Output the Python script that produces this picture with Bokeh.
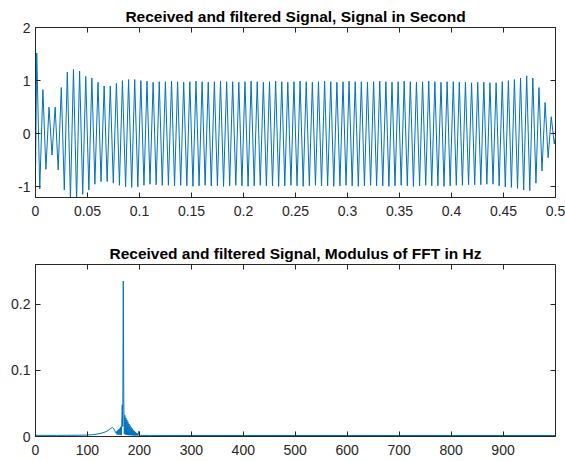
from bokeh.plotting import figure
from bokeh.models import Range1d, FixedTicker, LinearAxis
from bokeh.layouts import column
from bokeh.embed import file_html
from bokeh.resources import INLINE

# ---------------- data ----------------
# Top panel: received & filtered signal; extrema of each cycle (seconds, amplitude)
sig_start_t = 0.0
sig_start_v = -0.73
sig_end_t = 0.5
sig_end_v = -0.05

peak_t = [0.0012, 0.0071, 0.0130, 0.0189, 0.0248, 0.0306, 0.0365, 0.0424, 0.0483, 0.0542,
          0.0601, 0.0660, 0.0719, 0.0778, 0.0836, 0.0895, 0.0954, 0.1013, 0.1072, 0.1131,
          0.1190, 0.1249, 0.1308, 0.1366, 0.1425, 0.1484, 0.1543, 0.1602, 0.1661, 0.1720,
          0.1779, 0.1838, 0.1896, 0.1955, 0.2014, 0.2073, 0.2132, 0.2191, 0.2250, 0.2309,
          0.2368, 0.2426, 0.2485, 0.2544, 0.2603, 0.2662, 0.2721, 0.2780, 0.2839, 0.2898,
          0.2957, 0.3015, 0.3074, 0.3133, 0.3192, 0.3251, 0.3310, 0.3369, 0.3428, 0.3487,
          0.3545, 0.3604, 0.3663, 0.3722, 0.3781, 0.3840, 0.3899, 0.3958, 0.4017, 0.4075,
          0.4134, 0.4193, 0.4252, 0.4311, 0.4370, 0.4429, 0.4488, 0.4547, 0.4605, 0.4664,
          0.4723, 0.4782, 0.4841, 0.4900, 0.4959]
peak_v = [1.52, 0.83, 0.50, 0.50, 0.87, 1.16, 1.21, 1.18, 1.08, 1.05,
          0.97, 0.90, 0.90, 0.95, 1.00, 1.02, 1.02, 1.00, 0.99, 0.97,
          0.98, 0.98, 0.99, 0.98, 0.97, 0.98, 0.99, 0.98, 0.97, 0.98,
          0.99, 0.98, 0.98, 0.97, 0.98, 0.99, 0.98, 0.97, 0.98, 0.99,
          0.98, 0.97, 0.98, 0.99, 0.98, 0.97, 0.98, 0.99, 0.98, 0.97,
          0.98, 0.99, 0.98, 0.98, 0.97, 0.98, 0.99, 0.98, 0.97, 0.98,
          0.99, 0.98, 0.97, 0.98, 0.99, 0.98, 0.97, 0.98, 0.98, 0.97,
          0.97, 0.96, 0.97, 0.97, 0.96, 0.96, 0.98, 1.00, 1.02, 1.05,
          1.09, 1.05, 0.87, 0.59, 0.32]
trough_t = [0.0041, 0.0100, 0.0159, 0.0218, 0.0277, 0.0336, 0.0395, 0.0454, 0.0513, 0.0571,
            0.0630, 0.0689, 0.0748, 0.0807, 0.0866, 0.0925, 0.0984, 0.1043, 0.1101, 0.1160,
            0.1219, 0.1278, 0.1337, 0.1396, 0.1455, 0.1514, 0.1573, 0.1631, 0.1690, 0.1749,
            0.1808, 0.1867, 0.1926, 0.1985, 0.2044, 0.2103, 0.2161, 0.2220, 0.2279, 0.2338,
            0.2397, 0.2456, 0.2515, 0.2574, 0.2633, 0.2692, 0.2750, 0.2809, 0.2868, 0.2927,
            0.2986, 0.3045, 0.3104, 0.3163, 0.3222, 0.3280, 0.3339, 0.3398, 0.3457, 0.3516,
            0.3575, 0.3634, 0.3693, 0.3752, 0.3810, 0.3869, 0.3928, 0.3987, 0.4046, 0.4105,
            0.4164, 0.4223, 0.4282, 0.4340, 0.4399, 0.4458, 0.4517, 0.4576, 0.4635, 0.4694,
            0.4753, 0.4812, 0.4870, 0.4929, 0.4988]
trough_v = [-1.04, -0.67, -0.40, -0.68, -1.06, -1.22, -1.25, -1.14, -1.06, -0.95,
            -0.90, -0.90, -0.93, -0.97, -1.00, -1.01, -1.00, -0.97, -0.95, -0.96,
            -0.97, -0.97, -0.98, -0.97, -0.98, -0.99, -0.98, -0.97, -0.98, -0.98,
            -0.99, -0.98, -0.97, -0.98, -0.99, -0.98, -0.97, -0.98, -0.98, -0.99,
            -0.98, -0.97, -0.98, -0.99, -0.98, -0.97, -0.98, -0.98, -0.99, -0.98,
            -0.97, -0.98, -0.99, -0.98, -0.97, -0.98, -0.98, -0.99, -0.98, -0.97,
            -0.98, -0.99, -0.98, -0.97, -0.98, -0.98, -0.99, -0.98, -0.97, -0.97,
            -0.96, -0.96, -0.96, -0.95, -0.95, -0.98, -1.00, -1.01, -1.03, -1.06,
            -1.07, -0.93, -0.70, -0.45, -0.19]

# Bottom panel: modulus of the FFT (Hz, magnitude)
fft_hz = [0, 20, 40, 60, 80, 100, 110, 120, 128, 134, 139, 143, 146, 148, 150, 152, 154,
          155, 156, 157, 158, 159, 160, 161, 162, 163, 164, 165, 166, 167, 168, 169, 170,
          171, 172, 173, 174, 175, 176, 177, 178, 179, 180, 181, 182, 183, 184, 185, 186,
          187, 188, 189, 190, 191, 192, 193, 194, 195, 196, 197, 198, 199, 200, 202, 220,
          300, 400, 500, 600, 700, 800, 900, 1000]
fft_mag = [0.0018, 0.0017, 0.0017, 0.0018, 0.0019, 0.0022, 0.0028, 0.0038, 0.0052, 0.0068,
           0.0088, 0.0110, 0.0128, 0.0135, 0.0125, 0.0095, 0.0065,
           0.0050, 0.0075, 0.0030, 0.0090, 0.0030, 0.0105, 0.0025, 0.0120, 0.0025, 0.0145,
           0.0020, 0.0180, 0.0480, 0.0150, 0.2350, 0.0500,
           0.0040, 0.0320, 0.0030, 0.0280, 0.0025, 0.0250, 0.0025, 0.0220, 0.0020, 0.0190,
           0.0020, 0.0165, 0.0020, 0.0140, 0.0018, 0.0120,
           0.0018, 0.0100, 0.0015, 0.0085, 0.0015, 0.0070, 0.0015, 0.0055, 0.0015, 0.0045,
           0.0015, 0.0035, 0.0080, 0.0016, 0.0016, 0.0016,
           0.0015, 0.0015, 0.0015, 0.0015, 0.0015, 0.0015, 0.0015, 0.0015]

top_title = "Received and filtered Signal, Signal in Second"
bot_title = "Received and filtered Signal, Modulus of FFT in Hz"
top_xticks = [0, 0.05, 0.1, 0.15, 0.2, 0.25, 0.3, 0.35, 0.4, 0.45, 0.5]
top_xlabels = ["0", "0.05", "0.1", "0.15", "0.2", "0.25", "0.3", "0.35", "0.4", "0.45", "0.5"]
top_yticks = [-1, 0, 1, 2]
top_ylabels = ["-1", "0", "1", "2"]
bot_xticks = [0, 100, 200, 300, 400, 500, 600, 700, 800, 900]
bot_xlabels = ["0", "100", "200", "300", "400", "500", "600", "700", "800", "900"]
bot_yticks = [0, 0.1, 0.2]
bot_ylabels = ["0", "0.1", "0.2"]

# ---------------- style ----------------
AX = "#262626"
LINE = "#0072BD"
FONT = "Liberation Sans"
TICK_FS = "14px"
TITLE_FS = "15.5px"


def make_fig(height, title, xr, yr, xticks, xlabels, yticks, ylabels, top_border, bottom_border):
    p = figure(width=565, height=height, output_backend="svg", toolbar_location=None,
               x_range=Range1d(*xr), y_range=Range1d(*yr),
               min_border_left=35, min_border_right=10,
               min_border_top=top_border, min_border_bottom=bottom_border)
    p.background_fill_color = "white"
    p.border_fill_color = "white"
    p.outline_line_color = AX
    p.outline_line_width = 1
    p.xgrid.visible = False
    p.ygrid.visible = False

    p.title.text = title
    p.title.align = "center"
    p.title.text_font = FONT
    p.title.text_font_size = TITLE_FS
    p.title.text_font_style = "bold"
    p.title.text_color = "black"
    p.title.standoff = 5
    p.title.offset = 0

    for ax, ticks, labels in ((p.xaxis[0], xticks, xlabels), (p.yaxis[0], yticks, ylabels)):
        ax.ticker = FixedTicker(ticks=ticks)
        ax.major_label_overrides = {t: l for t, l in zip(ticks, labels)}
        ax.major_label_text_font = FONT
        ax.major_label_text_font_size = TICK_FS
        ax.major_label_text_color = AX
        ax.axis_line_color = AX
        ax.major_tick_line_color = AX
        ax.major_tick_in = 5
        ax.major_tick_out = 0
        ax.minor_tick_line_color = None
    p.xaxis.major_label_standoff = 8
    p.yaxis.major_label_standoff = 5

    # tick marks only (no labels) on the top and right edges, MATLAB box style
    for loc, ticks in (("above", xticks), ("right", yticks)):
        ax = LinearAxis(ticker=FixedTicker(ticks=ticks))
        ax.major_label_text_font_size = "1px"
        ax.major_label_text_color = None
        ax.major_label_standoff = 0
        ax.axis_line_color = None
        ax.major_tick_line_color = AX
        ax.major_tick_in = 5
        ax.major_tick_out = 0
        ax.minor_tick_line_color = None
        p.add_layout(ax, loc)
    return p


p1 = make_fig(232, top_title, (0, 0.5), (-1.2, 2), top_xticks, top_xlabels,
              top_yticks, top_ylabels, 27, 35)
sig_t = [sig_start_t]
sig_v = [sig_start_v]
for pt, pv, tt, tv in zip(peak_t, peak_v, trough_t, trough_v):
    sig_t += [pt, tt]
    sig_v += [pv, tv]
sig_t.append(sig_end_t)
sig_v.append(sig_end_v)
p1.line(sig_t, sig_v, line_color=LINE, line_width=1)

p2 = make_fig(229, bot_title, (0, 1001), (0, 0.26), bot_xticks, bot_xlabels,
              bot_yticks, bot_ylabels, 32, 25)
p2.line(fft_hz, fft_mag, line_color=LINE, line_width=1)

layout = column(p1, p2, spacing=0)
open("out.html", "w").write(file_html(layout, INLINE))
